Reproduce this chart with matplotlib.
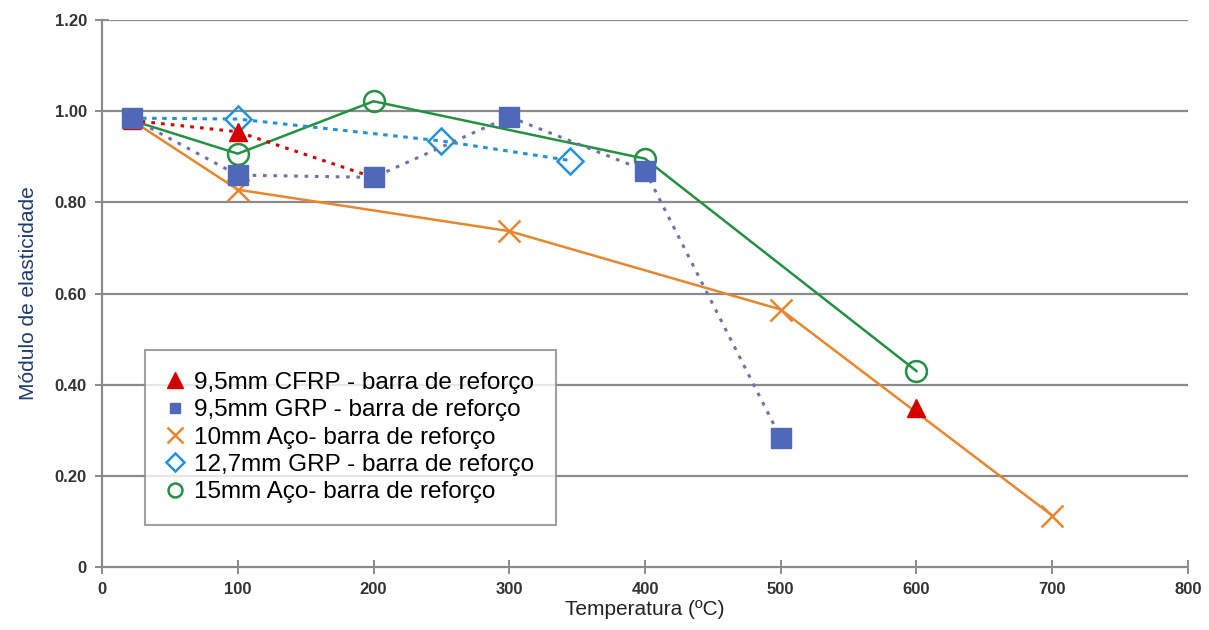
import numpy as np
import matplotlib
matplotlib.use("Agg")
import matplotlib.pyplot as plt
from matplotlib.lines import Line2D

# Data
cfrp_x = [22, 100, 200, 400, 600]
cfrp_y = [0.98, 0.955, 0.855, np.nan, 0.35]

grp95_x = [22, 100, 200, 300, 400, 500]
grp95_y = [0.985, 0.86, 0.855, 0.988, 0.87, 0.283]

aco10_x = [22, 100, 300, 500, 700]
aco10_y = [0.98, 0.828, 0.737, 0.565, 0.113]

grp127_x = [22, 100, 250, 345]
grp127_y = [0.985, 0.983, 0.935, 0.892]

aco15_x = [22, 100, 200, 400, 600]
aco15_y = [0.98, 0.907, 1.022, 0.896, 0.43]

labels = ["9,5mm CFRP - barra de reforço",
          "9,5mm GRP - barra de reforço",
          "10mm Aço- barra de reforço",
          "12,7mm GRP - barra de reforço",
          "15mm Aço- barra de reforço"]

xticks = [0, 100, 200, 300, 400, 500, 600, 700, 800]
yticks = [0.2, 0.4, 0.6, 0.8, 1.0, 1.2]
ytick_labels = ["0.20", "0.40", "0.60", "0.80", "1.00", "1.20"]

c_red = "#D40000"
c_blue = "#4F68B8"
c_blue_line = "#7272A8"
c_orange = "#E8862E"
c_lblue = "#2593D2"
c_green = "#229140"

fig = plt.figure(figsize=(12.09, 6.30), dpi=100)
ax = fig.add_axes([0.0844, 0.1, 0.8982, 0.868])

ax.set_xlim(0, 800)
ax.set_ylim(0, 1.2)

for y in yticks:
    ax.axhline(y, color="#8a8a8a", lw=1.6, zorder=0)

skip_first = slice(1, None)
ax.plot(aco10_x, aco10_y, color=c_orange, lw=1.8, marker="x", ms=16, mew=1.8,
        markevery=skip_first, zorder=3)
ax.plot(aco15_x, aco15_y, color=c_green, lw=1.8, marker="o", ms=15, mfc="none", mew=1.8,
        markevery=skip_first, zorder=3)
ax.plot(grp127_x, grp127_y, color=c_lblue, lw=2.2, ls=(0, (1.5, 1.8)), marker="D", ms=13,
        mfc="none", mew=1.8, markevery=skip_first, zorder=4)
ax.plot(grp95_x, grp95_y, color=c_blue_line, lw=2.2, ls=(0, (1.2, 2.2)), marker="none", zorder=4)
ax.plot(cfrp_x[:3], cfrp_y[:3], color=c_red, lw=2.2, ls=(0, (1.2, 2.0)), zorder=4)
ax.plot(cfrp_x, cfrp_y, ls="none", marker="^", ms=13, color=c_red, zorder=4.5)
ax.plot(grp95_x, grp95_y, ls="none", marker="s", ms=15, color=c_blue, zorder=5)

for s in ["top", "right"]:
    ax.spines[s].set_visible(False)
for s in ["left", "bottom"]:
    ax.spines[s].set_color("#8a8a8a")
    ax.spines[s].set_linewidth(1.6)

ax.set_xticks(xticks)
ax.set_xticklabels([str(v) for v in xticks])
ax.set_yticks([0] + yticks)
ax.set_yticklabels(["0"] + ytick_labels)
ax.tick_params(axis="both", direction="inout", length=10, width=1.4, color="#8a8a8a",
               labelsize=12, labelcolor="#333333")
ax.tick_params(axis="y", pad=6)
ax.tick_params(axis="x", pad=6)
for t in ax.get_yticklabels() + ax.get_xticklabels():
    t.set_fontfamily("Liberation Sans")
    t.set_fontweight("bold")

ax.set_xlabel("Temperatura (ºC)", fontsize=15, color="#222222", family="Liberation Sans", labelpad=2)
ax.set_ylabel("Módulo de elasticidade", fontsize=15, color="#1F3A6E", family="Liberation Sans", labelpad=12)

handles = [
    Line2D([], [], ls="none", marker="^", ms=11, color=c_red),
    Line2D([], [], ls="none", marker="s", ms=7, color=c_blue),
    Line2D([], [], ls="none", marker="x", ms=12, mew=1.8, color=c_orange),
    Line2D([], [], ls="none", marker="D", ms=9, mfc="none", mew=1.8, color=c_lblue),
    Line2D([], [], ls="none", marker="o", ms=10, mfc="none", mew=1.8, color=c_green),
]
leg = ax.legend(handles, labels, loc="upper left", bbox_to_anchor=(0.04, 0.397),
                prop={"family": "Liberation Sans", "size": 17.5}, frameon=True, fancybox=False,
                edgecolor="#8a8a8a", borderpad=0.9, labelspacing=0.22, handletextpad=0.5,
                handlelength=0.6, borderaxespad=0)
leg.get_frame().set_linewidth(1.5)
leg.set_zorder(10)

fig.savefig("out.png", dpi=100, facecolor="white")
